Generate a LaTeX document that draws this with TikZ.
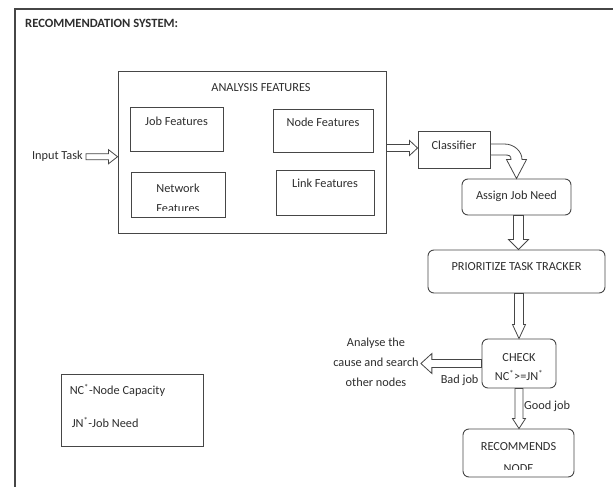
\documentclass[tikz,border=0pt]{standalone}
\usepackage{fontspec}
\setmainfont{Carlito}
\usepackage{tikz}
\usetikzlibrary{positioning,calc}

\definecolor{linegray}{RGB}{70,70,70}
\definecolor{textgray}{RGB}{45,45,45}
\newcommand{\fs}{\fontsize{12.3}{15}\selectfont}

% hollow block arrow: shaft half width, head half width, head length, from, to
\newcommand{\hollowarrow}[5]{%
  \coordinate (ha) at #4;
  \coordinate (hb) at #5;
  \coordinate (hc) at ($(hb)!#3!(ha)$);
  \draw[arrowline] ($(ha)!#1!90:(hb)$) -- ($(hc)!#1!90:(hb)$) -- ($(hc)!#2!90:(hb)$) -- (hb)
    -- ($(hc)!#2!-90:(hb)$) -- ($(hc)!#1!-90:(hb)$) -- ($(ha)!#1!-90:(hb)$) -- cycle;}

\tikzset{
  box/.style={draw=linegray, line width=0.9pt, inner sep=0pt},
  rbox/.style={box, rounded corners=6pt},
  txt/.style={text=textgray, font=\fs, inner sep=0pt, align=center},
  arrowline/.style={draw=linegray, line width=0.8pt, fill=white, line join=miter}
}

\begin{document}
\begin{tikzpicture}[x=1pt, y=-1pt]
    \useasboundingbox (0,0) rectangle (613,487);

    % frame and title
    \draw[linegray, line width=1.4pt] (15,487) -- (15,9) -- (613,9);
    \node[txt, anchor=base west, font=\fontsize{12.6}{15}\selectfont\bfseries] (title) at (25,28) {RECOMMENDATION SYSTEM:};

    % analysis features
    \node[box, minimum width=268pt, minimum height=162pt] (ana) at (252,152) {};
    \node[txt, anchor=base] (anat) at ($(ana.north)+(9,21)$) {ANALYSIS FEATURES};

    \node[box, minimum width=93pt, minimum height=44pt] (job) at (176.5,129) {};
    \node[txt, anchor=base] (jobt) at ($(job.north)+(0,19)$) {Job Features};

    \node[box, minimum width=100pt, minimum height=43pt] (nodef) at (323,130.5) {};
    \node[txt, anchor=base] (nodeft) at ($(nodef.north)+(0,18)$) {Node Features};

    \node[box, minimum width=94pt, minimum height=45pt] (net) at (178,194.5) {};
    \begin{scope}
        \clip ($(net.north west)+(2,2)$) rectangle ($(net.south east)+(-2,-7)$);
        \node[txt, anchor=base] (nett) at ($(net.north)+(0,21)$) {Network};
        \node[txt, anchor=base] (nett2) at ($(net.north)+(0,41)$) {Features};
    \end{scope}

    \node[box, minimum width=98pt, minimum height=45pt] (link) at (325,192.5) {};
    \node[txt, anchor=base] (linkt) at ($(link.north)+(0,18)$) {Link Features};

    % input
    \node[txt, anchor=base east] (inp) at (83,159) {Input Task};
    \hollowarrow{3pt}{7pt}{9pt}{($(inp.east)+(3,1)$)}{($(ana.west |- inp.east)+(0,1)$)}

    % classifier and flow
    \node[box, minimum width=72pt, minimum height=37pt] (cls) at (454,149.5) {};
    \node[txt, anchor=base] (clst) at ($(cls.north)+(0,19)$) {Classifier};
    \hollowarrow{3.5pt}{7.5pt}{8pt}{(ana.east |- 0,148)}{(cls.west |- 0,148)}

    \node[rbox, minimum width=109pt, minimum height=36pt] (assign) at (516.5,197) {};
    \node[txt, anchor=base] (assignt) at ($(assign.north)+(0,21)$) {Assign Job Need};

    \draw[arrowline] ($(cls.east)+(0,-5.5)$) -- ++(14,0) .. controls +(10,0) and +(0,-8) .. ($(assign.north)+(5.5,-19)$)
        -- ++(4.5,0) -- (assign.north) -- ++(-10,-19) -- ++(4.5,0) .. controls +(0,-4) and +(5,0) .. ($(cls.east)+(14,5.5)$)
        -- ($(cls.east)+(0,5.5)$) -- cycle;

    \node[rbox, minimum width=177pt, minimum height=43pt] (prio) at (516.5,271.5) {};
    \node[txt, anchor=base] (priot) at ($(prio.north)+(0,21)$) {PRIORITIZE TASK TRACKER};
    \hollowarrow{5pt}{10pt}{10pt}{($(assign.south)+(2,0)$)}{($(prio.north)+(2,0)$)}

    \node[rbox, minimum width=74pt, minimum height=49pt] (check) at (519,363.5) {};
    \node[txt, anchor=base] (checkt) at ($(check.north)+(0,23)$) {CHECK};
    \node[txt, anchor=base] (checkt2) at ($(check.north)+(0,42)$) {NC\textsuperscript{*}>=JN\textsuperscript{*}};
    \hollowarrow{4.5pt}{6.5pt}{14pt}{(check.north |- prio.south)}{(check.north)}

    % bad job
    \node[txt, anchor=center] (anl) at (376,362) {Analyse the\\[5pt]cause and search\\[5pt]other nodes};
    \hollowarrow{4pt}{10pt}{11pt}{(check.west)}{($(anl.east |- check.west)+(2,0)$)}
    \node[txt, anchor=base west] (bad) at ($(check.west)+(-41,19.5)$) {Bad job};

    % good job
    \node[rbox, minimum width=111pt, minimum height=48pt] (rec) at (518.5,453) {};
    \begin{scope}
        \clip ($(rec.north west)+(3,3)$) rectangle ($(rec.south east)+(-3,-8)$);
        \node[txt, anchor=base] (rect) at ($(rec.north)+(0,22)$) {RECOMMENDS};
        \node[txt, anchor=base] (rect2) at ($(rec.north)+(0,44)$) {NODE};
    \end{scope}
    \hollowarrow{4pt}{6.5pt}{10pt}{(check.south)}{(check.south |- rec.north)}
    \node[txt, anchor=base west] (good) at ($(check.south)+(5,21)$) {Good job};

    % legend
    \node[box, minimum width=142pt, minimum height=72pt] (leg) at (132,410) {};
    \node[txt, anchor=base west] (leg1) at ($(leg.north west)+(9,21)$) {NC\textsuperscript{*}-Node Capacity};
    \node[txt, anchor=base west] (leg2) at ($(leg.north west)+(11,54)$) {JN\textsuperscript{*}-Job Need};
\end{tikzpicture}
\end{document}
